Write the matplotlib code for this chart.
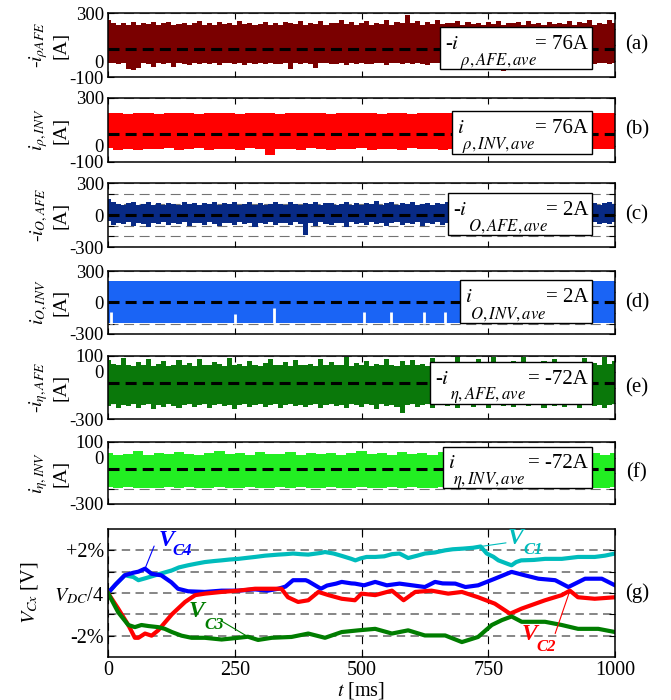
import matplotlib
matplotlib.use("Agg")
import matplotlib.pyplot as plt
from matplotlib.patches import Rectangle
import numpy as np

plt.rcParams['font.family'] = 'serif'
plt.rcParams['font.serif'] = ['Liberation Serif', 'DejaVu Serif']
plt.rcParams['mathtext.fontset'] = 'stix'
plt.rcParams['font.size'] = 14

# ---- data ----
t_fine = np.linspace(0, 1000, 101)    # envelope samples every 10 ms
t_coarse = np.linspace(0, 1000, 51)   # envelope samples every 20 ms

a_hi = [255, 240, 222, 236, 228, 242, 225, 238, 230, 246,
        224, 236, 244, 226, 232, 240, 222, 235, 248, 228,
        236, 226, 242, 230, 238, 224, 250, 232, 240, 226,
        234, 246, 228, 238, 222, 244, 236, 230, 252, 226,
        240, 232, 248, 224, 238, 236, 255, 230, 242, 228,
        236, 250, 226, 240, 232, 258, 228, 244, 236, 286,
        238, 248, 226, 242, 234, 256, 230, 240, 236, 250,
        228, 244, 234, 238, 226, 246, 232, 252, 228, 240,
        236, 244, 226, 250, 232, 238, 228, 246, 234, 240,
        230, 248, 226, 242, 236, 254, 228, 240, 232, 258, 236]
a_lo = [-15, -10, -18, -12, -50, -58, -45, -14, -20, -40,
        -12, -18, -14, -36, -10, -16, -22, -12, -18, -14,
        -20, -12, -25, -14, -10, -18, -15, -22, -12, -16,
        -14, -20, -12, -18, -16, -10, -48, -15, -20, -12,
        -18, -42, -14, -10, -20, -16, -12, -22, -14, -18,
        -12, -16, -20, -14, -10, -22, -15, -12, -18, -14,
        -20, -12, -16, -24, -14, -10, -18, -26, -12, -16,
        -14, -20, -12, -18, -15, -22, -16, -58, -62, -55,
        -50, -18, -12, -20, -16, -14, -45, -18, -12, -20,
        -16, -10, -22, -14, -18, -12, -20, -15, -10, -18, -14]

b_hi = [204, 207, 203, 209, 205, 202, 208, 204, 206, 203, 209, 205, 207, 202, 206, 204, 208,
        203, 206, 209, 204, 207, 203, 205, 208, 204, 206, 202, 209, 205, 203, 207, 204, 208,
        206, 203, 205, 209, 204, 206, 203, 207, 205, 208, 204, 206, 203, 209, 205, 207, 204]
b_lo = [-15, -22, -18, -25, -16, -20, -14, -24, -18, -15, -22, -16, -20, -26, -15, -18, -55,
        -20, -16, -24, -15, -18, -22, -16, -20, -15, -24, -18, -16, -22, -15, -20, -18, -25,
        -16, -20, -15, -22, -18, -16, -24, -15, -20, -18, -22, -16, -15, -24, -18, -20, -16]

c_hi = [150, 120, 100, 92, 108, 118, 96, 104, 124, 98,
        110, 94, 115, 102, 98, 120, 100, 108, 92, 116,
        104, 125, 96, 110, 100, 118, 94, 106, 122, 98,
        112, 96, 104, 118, 100, 92, 120, 106, 98, 114,
        100, 124, 96, 108, 116, 94, 102, 120, 98, 110,
        96, 114, 104, 130, 98, 108, 118, 94, 112, 100,
        122, 98, 106, 116, 94, 110, 100, 126, 96, 108,
        118, 100, 94, 112, 104, 120, 98, 108, 96, 116,
        102, 110, 124, 96, 106, 100, 118, 94, 112, 104,
        98, 116, 106, 96, 120, 100, 110, 94, 108, 118, 100]
c_lo = [-60, -95, -72, -80, -68, -100, -75, -85, -110, -72,
        -80, -70, -96, -75, -85, -70, -104, -78, -72, -90,
        -70, -82, -100, -72, -78, -95, -70, -86, -74, -108,
        -72, -80, -70, -98, -76, -72, -90, -70, -84, -190,
        -75, -100, -70, -82, -92, -72, -78, -110, -70, -85,
        -74, -96, -70, -80, -72, -100, -76, -70, -90, -72,
        -84, -70, -105, -74, -80, -70, -94, -72, -86, -70,
        -100, -74, -80, -70, -92, -72, -78, -70, -98, -74,
        -70, -86, -72, -104, -76, -70, -90, -72, -80, -70,
        -96, -72, -78, -70, -100, -74, -70, -88, -72, -80, -70]

d_hi = [205, 207, 204, 206, 208, 205, 203, 207, 205, 206, 204, 208, 205, 207, 203, 206, 205,
        208, 204, 206, 207, 205, 203, 206, 208, 204, 207, 205, 206, 203, 208, 205, 207, 204,
        206, 205, 208, 203, 207, 205, 206, 204, 208, 205, 207, 203, 206, 205, 208, 204, 206]
d_lo = [-195, -198, -194, -197, -195, -196, -193, -198, -195, -197, -194, -196, -198, -195,
        -193, -197, -195, -196, -198, -194, -195, -197, -193, -196, -195, -198, -194, -197,
        -195, -196, -193, -198, -195, -197, -194, -196, -195, -198, -193, -197, -195, -196,
        -194, -198, -195, -197, -193, -196, -195, -198, -195]
d_notch_t = [5, 250, 327, 505, 558, 623, 665]
d_notch_top = [-90, -110, -55, -90, -90, -90, -90]

e_hi = [75, 50, 40, 85, 45, 35, 60, 42, 78, 38,
        50, 70, 36, 45, 72, 40, 55, 38, 82, 44,
        40, 65, 48, 36, 90, 42, 50, 38, 68, 44,
        38, 55, 84, 40, 46, 62, 38, 72, 44, 40,
        50, 36, 78, 42, 60, 40, 46, 92, 38, 55,
        42, 70, 38, 48, 40, 82, 44, 36, 66, 40,
        75, 42, 50, 38, 88, 44, 40, 62, 36, 96,
        44, 55, 40, 78, 38, 46, 92, 40, 58, 44,
        70, 38, 96, 42, 50, 40, 66, 38, 84, 44,
        40, 60, 46, 38, 88, 42, 55, 40, 94, 48, 70]
e_lo = [-215, -205, -232, -210, -220, -205, -228, -212, -205, -236,
        -210, -222, -205, -215, -232, -208, -205, -224, -212, -206,
        -230, -210, -205, -220, -208, -238, -212, -205, -226, -210,
        -206, -222, -212, -205, -230, -210, -205, -218, -208, -225,
        -210, -205, -232, -212, -206, -220, -208, -228, -205, -212,
        -222, -206, -210, -234, -205, -215, -208, -226, -260, -210,
        -205, -222, -210, -206, -230, -212, -205, -218, -208, -228,
        -210, -205, -224, -212, -206, -232, -210, -205, -220, -208,
        -226, -210, -205, -218, -212, -205, -230, -208, -215, -205,
        -224, -210, -206, -228, -212, -205, -220, -208, -230, -210, -205]

f_hi = [30, 18, 25, 40, 15, 28, 20, 35, 22, 16, 30, 42, 20, 26, 18, 35, 24, 20, 38, 16, 28,
        22, 32, 18, 26, 40, 20, 30, 17, 34, 22, 28, 18, 36, 24, 20, 30, 42, 18, 26, 22, 35,
        20, 28, 16, 38, 24, 20, 32, 18, 30]
f_lo = [-193, -196, -192, -195, -194, -197, -193, -195, -192, -196, -194, -193, -197, -195,
        -192, -194, -196, -193, -195, -192, -197, -194, -193, -196, -195, -192, -194, -197,
        -193, -195, -192, -196, -194, -193, -197, -195, -192, -194, -196, -193, -195, -192,
        -197, -194, -193, -196, -195, -192, -194, -197, -193]

averages = [76, 76, 2, 2, -72, -72]

# capacitor voltages, deviation in % of V_DC/4
c1_t = [0, 15, 33, 50, 60, 75, 93, 110, 126, 140, 158, 175, 191, 210, 224, 240, 257, 275, 290,
        310, 336, 350, 365, 380, 395, 420, 428, 445, 461, 480, 488, 498, 510, 527, 545, 560,
        575, 592, 610, 625, 645, 665, 680, 700, 720, 735, 747, 760, 770, 790, 796, 805, 815,
        840, 862, 895, 927, 960, 980, 1000]
c1_v = [0.0, 0.4, 0.83, 0.75, 0.6, 0.7, 0.83, 0.95, 1.06, 1.2, 1.3, 1.38, 1.45, 1.5, 1.53, 1.57,
        1.6, 1.65, 1.69, 1.75, 1.8, 1.82, 1.85, 1.82, 1.8, 1.88, 1.92, 1.85, 1.74, 1.6, 1.53,
        1.62, 1.69, 1.69, 1.72, 1.82, 1.85, 1.64, 1.75, 1.85, 1.9, 2.0, 2.05, 2.08, 2.12, 2.18,
        1.85, 1.7, 1.53, 1.35, 1.3, 1.45, 1.53, 1.55, 1.6, 1.6, 1.69, 1.69, 1.75, 1.85]

c4_t = [0, 15, 33, 50, 60, 73, 86, 105, 125, 138, 158, 191, 224, 257, 290, 315, 336, 350, 365,
        390, 395, 420, 432, 450, 461, 480, 487, 505, 527, 550, 575, 600, 625, 645, 660, 685,
        705, 730, 763, 796, 822, 849, 882, 908, 941, 974, 1000]
c4_v = [0.0, 0.4, 0.83, 0.95, 1.0, 1.14, 0.9, 0.83, 0.5, 0.2, 0.08, 0.05, 0.11, 0.11, 0.17,
        0.11, 0.2, 0.3, 0.6, 0.6, 0.55, 0.2, 0.35, 0.44, 0.52, 0.45, 0.44, 0.36, 0.52, 0.36,
        0.44, 0.36, 0.28, 0.52, 0.45, 0.44, 0.28, 0.36, 0.67, 0.99, 0.83, 0.67, 0.6, 0.28, 0.67,
        0.67, 0.36]

c2_t = [0, 20, 40, 53, 60, 73, 86, 99, 126, 152, 172, 191, 224, 257, 290, 342, 355, 375, 395,
        415, 435, 461, 487, 500, 527, 560, 583, 606, 638, 671, 698, 730, 763, 793, 816, 862,
        895, 911, 927, 960, 1000]
c2_v = [0.0, -0.73, -1.5, -2.1, -2.1, -1.9, -2.0, -1.75, -1.0, -0.42, -0.1, -0.03, 0.05, 0.11,
        0.2, 0.2, -0.2, -0.42, -0.34, 0.05, -0.1, -0.27, -0.34, -0.03, -0.1, 0.11, -0.34, 0.05,
        0.11, -0.03, 0.05, -0.2, -0.5, -0.97, -0.73, -0.34, -0.1, 0.11, -0.2, -0.27, -0.2]

c3_t = [0, 20, 40, 53, 66, 80, 99, 112, 126, 145, 165, 191, 224, 257, 276, 296, 323, 362, 395,
        428, 461, 494, 527, 560, 592, 625, 665, 698, 730, 757, 777, 796, 816, 862, 895, 927,
        967, 1000]
c3_v = [0.0, -0.9, -1.5, -1.6, -1.5, -1.55, -1.6, -1.68, -1.83, -2.0, -2.1, -2.1, -2.18, -2.1,
        -2.05, -2.2, -2.1, -2.06, -1.9, -2.1, -1.83, -1.75, -1.68, -1.9, -1.75, -1.99, -1.99,
        -2.3, -2.06, -1.5, -1.27, -1.1, -1.35, -1.35, -1.5, -1.68, -1.68, -1.83]

# ---- figure ----
fig = plt.figure(figsize=(6.71, 7.0), dpi=100)
H = 700.0
left, width = 108 / 671, 507 / 671


def axes_px(top, bottom):
    return fig.add_axes([left, 1 - bottom / H, width, (bottom - top) / H])


grid_kw = dict(color='0.45', lw=0.8, ls=(0, (9, 5)))
TICK = 13.5

panels = [
    dict(top=13, bot=77, t=t_fine, hi=a_hi, lo=a_lo, color='#7a0000', ylim=(-100, 300),
         ticks=[-100, 0, 100, 200, 300], tl=['-100', '0', '', '', '300'],
         ylab='-$i_{\\rho AFE}$\n[A]', sign='-', sub='$\\rho,AFE,ave$', val='= 76A',
         box=(0.655, 0.955, 0.125, 0.78), tag='(a)'),
    dict(top=98, bot=162, t=t_coarse, hi=b_hi, lo=b_lo, color='#ff0000', ylim=(-100, 300),
         ticks=[-100, 0, 100, 200, 300], tl=['-100', '0', '', '', '300'],
         ylab='$i_{\\rho,INV}$\n[A]', sign='', sub='$\\rho,INV,ave$', val='= 76A',
         box=(0.679, 0.955, 0.125, 0.80), tag='(b)'),
    dict(top=183, bot=247, t=t_fine, hi=c_hi, lo=c_lo, color='#082a85', ylim=(-300, 300),
         ticks=[-300, -200, -100, 0, 100, 200, 300], tl=['-300', '', '', '0', '', '', '300'],
         ylab='-$i_{O,AFE}$\n[A]', sign='-', sub='$O,AFE,ave$', val='= 2A',
         box=(0.671, 0.955, 0.19, 0.85), tag='(c)'),
    dict(top=271, bot=334, t=t_coarse, hi=d_hi, lo=d_lo, color='#1a64f5', ylim=(-300, 300),
         ticks=[-300, -200, -100, 0, 100, 200, 300], tl=['-300', '', '', '0', '', '', '300'],
         ylab='$i_{O,INV}$\n[A]', sign='', sub='$O,INV,ave$', val='= 2A',
         box=(0.694, 0.955, 0.18, 0.86), tag='(d)'),
    dict(top=356, bot=419, t=t_fine, hi=e_hi, lo=e_lo, color='#0a780a', ylim=(-300, 100),
         ticks=[-300, -200, -100, 0, 100], tl=['-300', '', '', '0', '100'],
         ylab='-$i_{\\eta,AFE}$\n[A]', sign='-', sub='$\\eta,AFE,ave$', val='= -72A',
         box=(0.635, 0.955, 0.24, 0.91), tag='(e)'),
    dict(top=442, bot=504, t=t_coarse, hi=f_hi, lo=f_lo, color='#22ee22', ylim=(-300, 100),
         ticks=[-300, -200, -100, 0, 100], tl=['-300', '', '', '0', '100'],
         ylab='$i_{\\eta,INV}$\n[A]', sign='', sub='$\\eta,INV,ave$', val='= -72A',
         box=(0.661, 0.955, 0.26, 0.925), tag='(f)'),
]

for k, p in enumerate(panels):
    ax = axes_px(p['top'], p['bot'])
    ax.fill_between(p['t'], p['lo'], p['hi'], step='mid', color=p['color'], lw=0, zorder=2)
    if k == 3:
        ax.vlines(d_notch_t, -205, d_notch_top, colors='white', lw=2.0, zorder=2.5)
    ax.axhline(averages[k], color='black', lw=2.2, dashes=(3.6, 2.0), zorder=3)
    ax.set_xlim(0, 1000)
    ax.set_ylim(*p['ylim'])
    ax.set_xticks([0, 250, 500, 750, 1000])
    ax.set_yticks(p['ticks'])
    ax.set_yticklabels(p['tl'])
    ax.tick_params(direction='in', top=True, right=True, length=4, labelbottom=False,
                   labelsize=TICK, pad=3)
    ax.yaxis.grid(True, **grid_kw)
    ax.set_axisbelow(True)
    for s in ax.spines.values():
        s.set_linewidth(1.1)
    ax.text(-0.117, 0.5, p['ylab'], rotation=90, ha='center', va='center',
            transform=ax.transAxes, fontsize=14, multialignment='center')
    ax.text(1.043, 0.5, p['tag'], ha='center', va='center', transform=ax.transAxes,
            fontsize=15)
    x0, x1, y0, y1 = p['box']
    ax.add_patch(Rectangle((x0, y0), x1 - x0, y1 - y0, transform=ax.transAxes,
                           facecolor='white', edgecolor='black', lw=1.0, zorder=5))
    ym = y0 + 0.58 * (y1 - y0)
    ys = y0 + 0.2 * (y1 - y0)
    if p['sign']:
        ax.text(x0 + 5 / 507, ym, '-$i$', transform=ax.transAxes, ha='left', va='center',
                fontsize=15, zorder=6)
        ax.text(x0 + 20 / 507, ys, p['sub'], transform=ax.transAxes, ha='left',
                va='center', fontsize=12, zorder=6)
    else:
        ax.text(x0 + 5 / 507, ym, '$i$', transform=ax.transAxes, ha='left', va='center',
                fontsize=15, zorder=6)
        ax.text(x0 + 10 / 507, ys, p['sub'], transform=ax.transAxes, ha='left',
                va='center', fontsize=12, zorder=6)
    ax.text(x1 - 4 / 507, ym, p['val'], transform=ax.transAxes, ha='right', va='center',
            fontsize=15, zorder=6)

# ---- panel (g) ----
ax = axes_px(529, 657)
ax.plot(c1_t, c1_v, color='#00bcbc', lw=3)
ax.plot(c4_t, c4_v, color='#0000ff', lw=3)
ax.plot(c2_t, c2_v, color='#ff0000', lw=3)
ax.plot(c3_t, c3_v, color='#007d00', lw=3)
ax.set_xlim(0, 1000)
ax.set_ylim(-3, 3)
ax.set_xticks([0, 250, 500, 750, 1000])
ax.set_yticks([-2, -1, 0, 1, 2])
ax.set_yticklabels(['-2%', '', '$V_{DC}$/4', '', '+2%'])
ax.tick_params(direction='in', top=True, right=True, length=4, labelsize=14.5, pad=3)
ax.yaxis.grid(True, color='0.4', lw=1.1, ls=(0, (5.5, 3.5)))
ax.xaxis.grid(True, color='black', lw=0.8, ls=(0, (7, 5)))
ax.set_axisbelow(True)
for s in ax.spines.values():
    s.set_linewidth(1.1)
ax.text(0.5, -0.262, '$t$ [ms]', ha='center', va='center', transform=ax.transAxes,
        fontsize=14.5)
ax.text(-0.154, 0.5, '$V_{Cx}$ [V]', rotation=90, ha='center', va='center',
        transform=ax.transAxes, fontsize=14.5)
ax.text(1.043, 0.5, '(g)', ha='center', va='center', transform=ax.transAxes, fontsize=15)

lab_kw = dict(fontstyle='italic', fontweight='bold', ha='center', va='center')
for (vt, vv, st, sv, sub, col, ex, ey, ct, cv) in [
        (116, 2.45, 146, 1.95, 'C4', '#0000ff', 91, 2.2, c4_t[5], c4_v[5]),
        (174, -0.86, 210, -1.52, 'C3', '#007d00', 225, -1.33, c3_t[14], c3_v[14]),
        (803, 2.57, 838, 2.0, 'C1', '#00bcbc', 785, 2.35, c1_t[45], c1_v[45]),
        (832, -1.94, 864, -2.55, 'C2', '#ff0000', 882, -1.9, c2_t[37], c2_v[37])]:
    ax.text(vt, vv, 'V', color=col, fontsize=17, family='Liberation Serif', **lab_kw)
    ax.text(st, sv, sub, color=col, fontsize=12, family='Liberation Serif', **lab_kw)
    ax.annotate('', xy=(ct, cv), xytext=(ex, ey),
                arrowprops=dict(arrowstyle='-', color=col, lw=0.8, shrinkA=0, shrinkB=0))

fig.savefig('out.png', dpi=100)
